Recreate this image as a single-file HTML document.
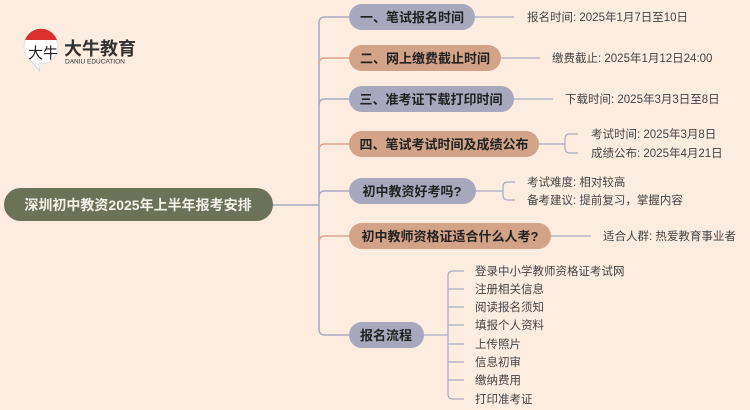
<!DOCTYPE html>
<html><head><meta charset="utf-8"><style>
html,body{margin:0;padding:0;background:#fdede1;}
svg{display:block}
text{font-family:"Liberation Sans","Noto Sans CJK SC",sans-serif;}
.n{font-size:13px;font-weight:bold;fill:#222;}
.l{font-size:11.5px;fill:#444;}
</style></head><body>
<svg width="750" height="410" viewBox="0 0 750 410" xmlns="http://www.w3.org/2000/svg">
<rect width="750" height="410" fill="#fdede1"/>
<!-- logo -->
<path d="M30 60 L40 71 L38 63 Z" fill="#fff" stroke="#ccc" stroke-width="0.6"/>
<circle cx="41" cy="47" r="17" fill="#fff" stroke="#ddd" stroke-width="0.8"/>
<path d="M25 40 A17 17 0 0 1 57 40 Z" fill="#d9312d"/>
<text x="28" y="58" font-size="15" fill="#222" font-family="Liberation Serif,'Noto Serif CJK SC',serif">大牛</text>
<text x="64" y="55" font-size="18" font-weight="bold" fill="#333">大牛教育</text>
<text x="65" y="63.5" font-size="6.5" fill="#333">DANIU EDUCATION</text>

<!-- root -->
<line x1="272" y1="205" x2="319" y2="205" stroke="#a9aac4" stroke-width="1.5"/>
<rect x="4" y="188" width="269" height="33" rx="16.5" fill="#6b7258"/>
<text x="138" y="210" text-anchor="middle" font-size="14" font-weight="bold" fill="#f4f1ea">深圳初中教资2025年上半年报考安排</text>

<!-- trunk -->
<g fill="none" stroke-width="1.5">
<path d="M349 17 H325 Q319 17 319 23 V329 Q319 335 325 335 H349" stroke="#a9aac4"/>
<path d="M319 64 Q319 58 325 58 H349" stroke="#dba88b"/>
<path d="M319 105 Q319 99 325 99 H349" stroke="#a9aac4"/>
<path d="M319 150 Q319 144 325 144 H349" stroke="#dba88b"/>
<path d="M319 197 Q319 191 325 191 H349" stroke="#a9aac4"/>
<path d="M319 242 Q319 236 325 236 H349" stroke="#dba88b"/>
</g>
<!-- leaf lines -->
<g fill="none" stroke="#a9aac4" stroke-width="1.2">
<line x1="475" y1="17" x2="514" y2="17"/>
<line x1="501" y1="58" x2="540" y2="58"/>
<line x1="514" y1="99" x2="553" y2="99"/>
<path d="M539 144 H565 M578 134 H570 Q565 134 565 139 V148 Q565 153 570 153 H578"/>
<path d="M476 191 H503 M515 182 H508 Q503 182 503 187 V195 Q503 200 508 200 H515"/>
<line x1="551" y1="236" x2="591" y2="236"/>
<path d="M424 335 H448 M464 271 H453 Q448 271 448 276 V394 Q448 399 453 399 H464"/>
<path d="M448 289 H464 M448 307 H464 M448 325 H464 M448 344 H464 M448 362 H464 M448 380 H464"/>
</g>

<!-- nodes -->
<rect x="349" y="4" width="126" height="26" rx="13" fill="#a8a8bc"/>
<text class="n" x="412" y="22" text-anchor="middle">一、笔试报名时间</text>
<rect x="349" y="45" width="152" height="26" rx="13" fill="#d3a387"/>
<text class="n" x="425" y="63" text-anchor="middle">二、网上缴费截止时间</text>
<rect x="349" y="86" width="165" height="26" rx="13" fill="#a8a8bc"/>
<text class="n" x="431" y="104" text-anchor="middle">三、准考证下载打印时间</text>
<rect x="349" y="131" width="190" height="26" rx="13" fill="#d3a387"/>
<text class="n" x="444" y="149" text-anchor="middle">四、笔试考试时间及成绩公布</text>
<rect x="349" y="178" width="127" height="26" rx="13" fill="#a8a8bc"/>
<text class="n" x="412" y="196" text-anchor="middle">初中教资好考吗?</text>
<rect x="349" y="223" width="202" height="26" rx="13" fill="#d3a387"/>
<text class="n" x="450" y="241" text-anchor="middle">初中教师资格证适合什么人考?</text>
<rect x="349" y="322" width="75" height="26" rx="13" fill="#a8a8bc"/>
<text class="n" x="386" y="340" text-anchor="middle">报名流程</text>

<!-- leaves -->
<text class="l" x="527" y="21">报名时间: 2025年1月7日至10日</text>
<text class="l" x="552" y="62">缴费截止: 2025年1月12日24:00</text>
<text class="l" x="565" y="103">下载时间: 2025年3月3日至8日</text>
<text class="l" x="591" y="138">考试时间: 2025年3月8日</text>
<text class="l" x="591" y="157">成绩公布: 2025年4月21日</text>
<text class="l" x="527" y="186">考试难度: 相对较高</text>
<text class="l" x="527" y="204">备考建议: 提前复习，掌握内容</text>
<text class="l" x="603" y="240">适合人群: 热爱教育事业者</text>
<text class="l" x="475" y="275">登录中小学教师资格证考试网</text>
<text class="l" x="475" y="293">注册相关信息</text>
<text class="l" x="475" y="311">阅读报名须知</text>
<text class="l" x="475" y="329">填报个人资料</text>
<text class="l" x="475" y="348">上传照片</text>
<text class="l" x="475" y="366">信息初审</text>
<text class="l" x="475" y="384">缴纳费用</text>
<text class="l" x="475" y="403">打印准考证</text>
</svg>
</body></html>
